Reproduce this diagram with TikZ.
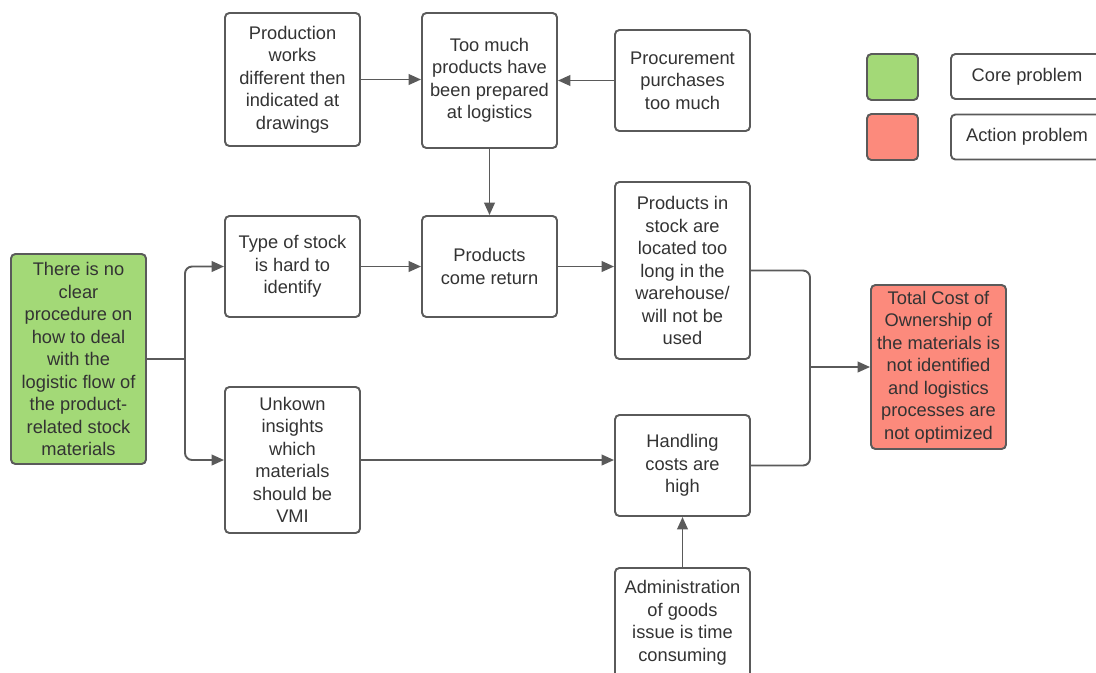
\documentclass[tikz,border=0pt]{standalone}
\usepackage{fontspec}
\setmainfont{Liberation Sans}
\usepackage{xcolor}
\usetikzlibrary{shapes.geometric, arrows.meta, positioning, calc}

\definecolor{coregreen}{RGB}{163,217,119}
\definecolor{actionred}{RGB}{252,138,124}
\definecolor{linegray}{RGB}{90,90,90}
\definecolor{textgray}{RGB}{51,51,51}

\begin{document}
\begin{tikzpicture}[
    box/.style={rectangle, rounded corners=2.5pt, draw=linegray, line width=1.1pt, fill=white,
        align=center, text=textgray, minimum width=2.7cm, inner sep=2pt,
        font=\fontsize{10.4}{12.8}\selectfont},
    arrow/.style={draw=linegray, line width=1.1pt, -{Triangle[length=7pt,width=6pt]}},
    link/.style={draw=linegray, line width=1.1pt}
]
\useasboundingbox (0,0) rectangle (21.92,-13.44);
\clip (0,0) rectangle (21.92,-13.44);

% problems
\node[box, fill=coregreen, minimum height=4.2cm] (core) at (1.57,-7.18)
    {There is no\\clear\\procedure on\\how to deal\\with the\\logistic flow of\\the product-\\related stock\\materials};
\node[box, minimum height=2.02cm] (type) at (5.85,-5.33) {Type of stock\\is hard to\\identify};
\node[box, minimum height=2.92cm] (unknown) at (5.85,-9.2) {Unkown\\insights\\which\\materials\\should be\\VMI};
\node[box, minimum height=2.66cm] (production) at (5.85,-1.59) {Production\\works\\different then\\indicated at\\drawings};
\node[box, minimum height=2.7cm] (toomuch) at (9.79,-1.61) {Too much\\products have\\been prepared\\at logistics};
\node[box, minimum height=2.02cm] (procurement) at (13.65,-1.61) {Procurement\\purchases\\too much};
\node[box, minimum height=2.02cm] (returns) at (9.79,-5.33) {Products\\come return};
\node[box, minimum height=3.54cm] (stock) at (13.65,-5.41) {Products in\\stock are\\located too\\long in the\\warehouse/\\will not be\\used};
\node[box, minimum height=2.02cm] (handling) at (13.65,-9.31) {Handling\\costs are\\high};
\node[box, minimum height=2.2cm, anchor=north] (admin) at (13.65,-11.34) {Administration\\of goods\\issue is time\\consuming};
\node[box, fill=actionred, minimum height=3.28cm] (tco) at (18.77,-7.34)
    {Total Cost of\\Ownership of\\the materials is\\not identified\\and logistics\\processes are\\not optimized};

% legend
\node[box, fill=coregreen, minimum width=1.02cm, minimum height=0.92cm] (keycore) at (17.85,-1.54) {};
\node[box, fill=actionred, minimum width=1.02cm, minimum height=0.92cm] (keyaction) at (17.85,-2.74) {};
\node[box, minimum width=3.04cm, minimum height=0.9cm] (corelabel) at (20.54,-1.53) {Core problem};
\node[box, minimum width=3.04cm, minimum height=0.9cm] (actionlabel) at (20.54,-2.74) {Action problem};

% junctions
\coordinate (split) at (3.7,-7.18);
\coordinate (merge) at (16.2,-7.34);

% connectors
\draw[link, rounded corners=4pt] (core.east) -- (split);
\draw[arrow, rounded corners=4pt] (split) |- (type.west);
\draw[arrow, rounded corners=4pt] (split) |- (unknown.west);
\draw[arrow] (production.east) -- (production.east -| toomuch.west);
\draw[arrow] (procurement.west) -- (procurement.west -| toomuch.east);
\draw[arrow] (toomuch.south) -- (returns.north);
\draw[arrow] (type.east) -- (type.east -| returns.west);
\draw[arrow] (returns.east) -- (returns.east -| stock.west);
\draw[arrow] (unknown.east) -- (unknown.east -| handling.west);
\draw[arrow] (admin.north) -- (handling.south);
\draw[link, rounded corners=4pt] (stock.east) -| (merge);
\draw[link, rounded corners=4pt] (handling.east) -| (merge);
\draw[arrow] (merge) -- (tco.west);

\end{tikzpicture}
\end{document}
